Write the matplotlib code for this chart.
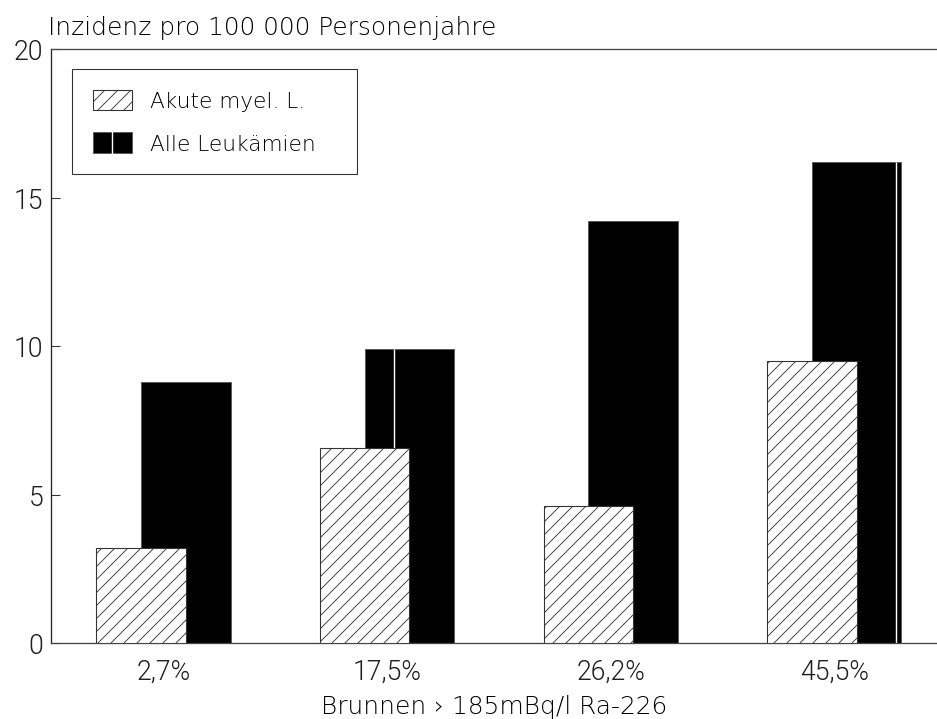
import matplotlib
matplotlib.use("Agg")
import matplotlib.pyplot as plt
import numpy as np
from matplotlib.patches import Rectangle
from matplotlib.lines import Line2D
from matplotlib.legend_handler import HandlerBase

# --- data -----------------------------------------------------------------
categories = ["2,7%", "17,5%", "26,2%", "45,5%"]
akute_myel = [3.2, 6.55, 4.6, 9.5]          # Akute myel. L.
alle_leuk = [8.8, 9.9, 14.2, 16.2]          # Alle Leukämien
y_ticks = [0, 5, 10, 15, 20]

# --- style ----------------------------------------------------------------
DPI = 78
TXT = "#000000"
TICK_TXT = "#1e1e1e"
EDGE = "#444444"
WEIGHT = 200
split_frac = [None, 0.33, None, 0.94]       # thin white seam inside some black bars

plt.rcParams["hatch.linewidth"] = 0.8
plt.rcParams["font.family"] = ["DejaVu Sans"]

fig = plt.figure(figsize=(937 / DPI, 720 / DPI), dpi=DPI)
ax = fig.add_axes([51 / 937, 76 / 720, 886 / 937, 594 / 720])

x = np.arange(len(categories))
w = 0.40
off = 0.10

black = ax.bar(x + off, alle_leuk, width=w, color="black", edgecolor="#555555",
               linewidth=0.8, zorder=2)
hatched = ax.bar(x - off, akute_myel, width=w, facecolor="white", edgecolor="#333333",
                 hatch="//", linewidth=1.0, zorder=3)

for rect, frac in zip(black, split_frac):
    if frac is None:
        continue
    xs = rect.get_x() + frac * rect.get_width()
    ax.vlines(xs, 0, rect.get_height(), colors="white", linewidth=1.3, zorder=2.5)

ax.set_xlim(-0.503, len(categories) - 0.54)
ax.set_ylim(0, 20)
ax.set_yticks(y_ticks)
ax.set_xticks(x)
tick_font = {"family": "Roboto", "weight": 300, "size": 24.5}
ax.set_xticklabels(categories, fontdict=tick_font, color=TICK_TXT)
ax.set_yticklabels([str(t) for t in y_ticks], fontdict=tick_font, color=TICK_TXT)

ax.tick_params(axis="y", direction="in", length=8.5, width=1.0, color="#333333", pad=7)
ax.tick_params(axis="x", length=0, pad=14)

for side in ("top", "bottom", "left"):
    ax.spines[side].set_color(EDGE)
    ax.spines[side].set_linewidth(1.2)
ax.spines["left"].set_color("#222222")
ax.spines["right"].set_visible(False)

ax.set_xlabel("Brunnen \u203a 185mBq/l Ra-226", fontsize=23, color=TXT, labelpad=8,
              fontweight=WEIGHT)
ax.text(-0.003, 1.0253, "Inzidenz pro 100 000 Personenjahre", transform=ax.transAxes,
        ha="left", va="baseline", fontsize=23, color=TXT, fontweight=WEIGHT)


class SplitBlockHandler(HandlerBase):
    """Black legend key with a thin white seam down the middle."""

    def create_artists(self, legend, orig_handle, xdescent, ydescent, width, height,
                       fontsize, trans):
        r = Rectangle((-xdescent, -ydescent), width, height, facecolor="black",
                      edgecolor="#555555", linewidth=0.8, transform=trans)
        xm = -xdescent + width / 2
        l = Line2D([xm, xm], [-ydescent, -ydescent + height], color="white",
                   linewidth=1.3, transform=trans)
        return [r, l]


h1 = Rectangle((0, 0), 1, 1, facecolor="white", edgecolor="#333333", hatch="//", linewidth=1.0)
h2 = Rectangle((0, 0), 1, 1, facecolor="black")

leg = ax.legend([h1, h2], ["Akute myel. L.", "Alle Leukämien"],
                handler_map={h2: SplitBlockHandler()},
                loc="upper left", bbox_to_anchor=(21 / 886, 0.786, 285 / 886, 0.18),
                mode="expand", borderaxespad=0,
                prop={"size": 20, "weight": WEIGHT},
                handlelength=1.8, handleheight=1.08, handletextpad=0.85,
                borderpad=0.95, labelspacing=0.95, fancybox=False, framealpha=1)
leg.get_frame().set_edgecolor("#333333")
leg.get_frame().set_linewidth(1.0)
for t in leg.get_texts():
    t.set_color(TXT)

fig.savefig("out.png", dpi=DPI)
